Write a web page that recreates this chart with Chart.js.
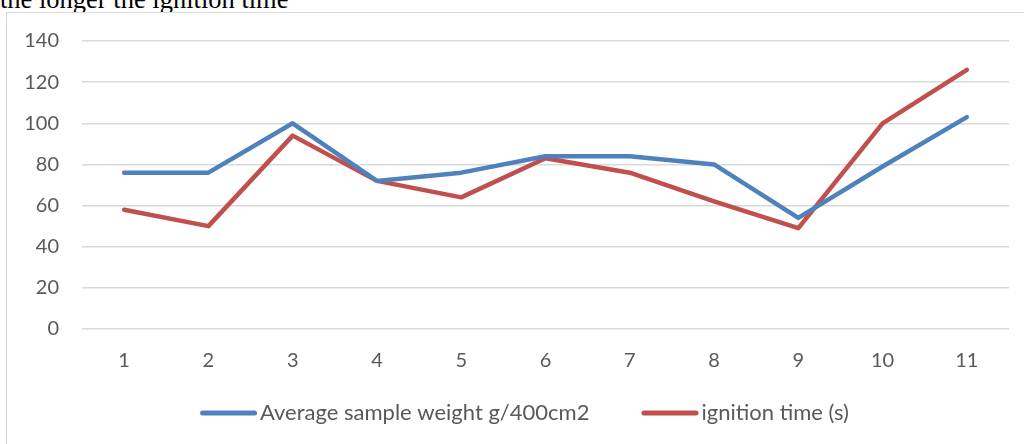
<!DOCTYPE html>
<html>
<head>
<meta charset="utf-8">
<script src="https://cdn.jsdelivr.net/npm/chart.js@4.4.1/dist/chart.umd.min.js"></script>
<style>
  html, body { margin: 0; padding: 0; background: #fff; overflow: hidden; width: 1024px; height: 444px; }
  .caption {
    position: absolute; left: 0; top: -16px; line-height: normal;
    font: 26.5px "Liberation Serif", "DejaVu Serif", serif; color: #000; white-space: nowrap;
  }
  .frame {
    position: absolute; left: 6px; top: 12px; width: 1040px; height: 440px;
    border-left: 1px solid #d9d9d9; border-top: 1px solid #d9d9d9; background: #fff;
  }
  .frame canvas { position: absolute; left: 0; top: 0; }
</style>
</head>
<body>
<div class="caption">the longer the ignition time</div>
<div class="frame"><canvas id="chartIgnition" width="1035" height="431"></canvas></div>
<script>
  const categories   = ['1', '2', '3', '4', '5', '6', '7', '8', '9', '10', '11'];
  const sampleWeight = [76, 76, 100, 72, 76, 84, 84, 80, 54, 79, 103];
  const ignitionTime = [58, 50, 94, 72, 64, 83, 76, 62, 49, 100, 126];
  const yTicks = [0, 20, 40, 60, 80, 100, 120, 140];

  const BLUE = '#4f81bd';
  const RED  = '#c0504d';
  const TEXT = '#595959';
  const GRID = '#d9d9d9';
  const FONT = 'Lato, "Open Sans", sans-serif';

  const lineDs = (label, data, color) => ({
    label,
    data,
    borderColor: color,
    backgroundColor: color,
    borderWidth: 4.5,
    pointRadius: 0,
    pointHoverRadius: 0,
    tension: 0,
    borderCapStyle: 'round',
    borderJoinStyle: 'round',
    fill: false,
  });

  // Excel-style legend: short thick line, tight gap, text
  const bottomLegend = {
    id: 'bottomLegend',
    afterDraw(chart) {
      const ctx = chart.ctx;
      const sets = chart.data.datasets;
      const lineW = 57, gap = 3, itemGap = 52;
      ctx.save();
      ctx.font = '22px ' + FONT;
      const widths = sets.map(ds => lineW + gap + ctx.measureText(ds.label).width);
      const total = widths.reduce((a, b) => a + b, 0) + itemGap * (sets.length - 1);
      let x = chart.width / 2 - total / 2;
      const y = chart.chartArea.bottom + 84;
      sets.forEach((ds, i) => {
        ctx.strokeStyle = ds.borderColor;
        ctx.lineWidth = 5;
        ctx.lineCap = 'round';
        ctx.beginPath();
        ctx.moveTo(x + 2.5, y);
        ctx.lineTo(x + lineW - 2.5, y);
        ctx.stroke();
        ctx.fillStyle = TEXT;
        ctx.textBaseline = 'middle';
        ctx.textAlign = 'left';
        ctx.fillText(ds.label, x + lineW + gap, y);
        x += widths[i] + itemGap;
      });
      ctx.restore();
    },
  };

  new Chart(document.getElementById('chartIgnition'), {
    type: 'line',
    data: {
      labels: categories,
      datasets: [
        lineDs('Average sample weight g/400cm2', sampleWeight, BLUE),
        lineDs('ignition time (s)', ignitionTime, RED),
      ],
    },
    plugins: [bottomLegend],
    options: {
      responsive: false,
      animation: false,
      devicePixelRatio: 1,
      layout: { padding: { top: 28, right: 33, left: 0, bottom: 57 } },
      plugins: {
        tooltip: { enabled: false },
        legend: { display: false },
      },
      scales: {
        x: {
          offset: true,
          grid: { display: false },
          border: { display: false },
          ticks: { color: TEXT, font: { family: FONT, size: 20 }, padding: 12, maxRotation: 0 },
          afterFit: s => { s.height = 58; s.paddingLeft = 0; s.paddingRight = 0; },
        },
        y: {
          min: 0,
          max: 140,
          afterBuildTicks: s => { s.ticks = yTicks.map(v => ({ value: v })); },
          grid: { color: GRID, lineWidth: 1.5, drawTicks: false },
          border: { display: false },
          ticks: { color: TEXT, font: { family: FONT, size: 20 }, padding: 23 },
          afterFit: s => { s.width = 75; s.paddingTop = 0; s.paddingBottom = 0; },
        },
      },
    },
  });
</script>
</body>
</html>
